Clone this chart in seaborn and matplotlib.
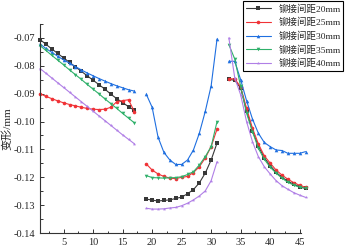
import numpy as np
import pandas as pd
import matplotlib
matplotlib.use('Agg')
import matplotlib.pyplot as plt
import seaborn as sns
from matplotlib.ticker import MultipleLocator, FormatStrFormatter

# x positions of the three measured segments
x_seg1 = list(range(1, 18))
x_seg2 = list(range(19, 32))
x_seg3 = list(range(33, 47))

names = ['铆接间距20mm', '铆接间距25mm', '铆接间距30mm', '铆接间距35mm', '铆接间距40mm']

d20 = [
    [-0.0706, -0.0723, -0.0740, -0.0756, -0.0772, -0.0788, -0.0804, -0.0820, -0.0836,
     -0.0852, -0.0868, -0.0884, -0.0902, -0.0918, -0.0932, -0.0947, -0.0960],
    [-0.1278, -0.1282, -0.1285, -0.1283, -0.1281, -0.1276, -0.1271, -0.1259, -0.1244,
     -0.1220, -0.1185, -0.1138, -0.1077],
    [-0.0849, -0.0852, -0.0880, -0.0962, -0.1034, -0.1088, -0.1130, -0.1158, -0.1182,
     -0.1200, -0.1214, -0.1225, -0.1234, -0.1240],
]
d25 = [
    [-0.0900, -0.0910, -0.0918, -0.0926, -0.0933, -0.0939, -0.0944, -0.0949, -0.0953,
     -0.0956, -0.0957, -0.0956, -0.0949, -0.0929, -0.0925, -0.0922, -0.0965],
    [-0.1152, -0.1174, -0.1188, -0.1197, -0.1203, -0.1205, -0.1200, -0.1197, -0.1183,
     -0.1162, -0.1131, -0.1090, -0.1027],
    [-0.0847, -0.0847, -0.0876, -0.0952, -0.1024, -0.1080, -0.1123, -0.1149, -0.1174,
     -0.1192, -0.1207, -0.1219, -0.1229, -0.1236],
]
d30 = [
    [-0.0722, -0.0738, -0.0752, -0.0766, -0.0779, -0.0791, -0.0803, -0.0815, -0.0826,
     -0.0836, -0.0846, -0.0855, -0.0864, -0.0872, -0.0879, -0.0886, -0.0891],
    [-0.0902, -0.0949, -0.1056, -0.1111, -0.1138, -0.1154, -0.1154, -0.1138, -0.1102,
     -0.1042, -0.0964, -0.0872, -0.0704],
    [-0.0784, -0.0784, -0.0850, -0.0925, -0.0991, -0.1042, -0.1075, -0.1090, -0.1102,
     -0.1104, -0.1114, -0.1114, -0.1114, -0.1108],
]
d35 = [
    [-0.0728, -0.0745, -0.0763, -0.0780, -0.0797, -0.0815, -0.0832, -0.0849, -0.0867,
     -0.0884, -0.0901, -0.0919, -0.0936, -0.0953, -0.0971, -0.0988, -0.1005],
    [-0.1194, -0.1201, -0.1202, -0.1203, -0.1202, -0.1201, -0.1198, -0.1190, -0.1180,
     -0.1156, -0.1126, -0.1090, -0.1000],
    [-0.0724, -0.0776, -0.0874, -0.0970, -0.1036, -0.1096, -0.1135, -0.1164, -0.1185,
     -0.1203, -0.1218, -0.1228, -0.1236, -0.1239],
]
d40 = [
    [-0.0810, -0.0827, -0.0844, -0.0861, -0.0878, -0.0895, -0.0912, -0.0929, -0.0946,
     -0.0963, -0.0980, -0.0997, -0.1014, -0.1031, -0.1048, -0.1064, -0.1080],
    [-0.1311, -0.1314, -0.1314, -0.1313, -0.1310, -0.1308, -0.1302, -0.1293, -0.1281,
     -0.1267, -0.1249, -0.1212, -0.1144],
    [-0.0700, -0.0844, -0.0904, -0.1000, -0.1072, -0.1126, -0.1162, -0.1188, -0.1212,
     -0.1230, -0.1243, -0.1255, -0.1264, -0.1272],
]

colors = ['#383838', '#f03236', '#1f6fe0', '#2fb06a', '#b07fe6']
markers = ['s', 'o', '^', 'v', '*']

# long table, one unit per segment so the gaps stay open
rows = []
for name, series in zip(names, [d20, d25, d30, d35, d40]):
    for seg, (xs, ys) in enumerate(zip([x_seg1, x_seg2, x_seg3], series)):
        for xv, yv in zip(xs, ys):
            rows.append({'x': xv, 'y': yv, 'name': name, 'seg': seg})
df = pd.DataFrame(rows)

sns.set_style('ticks')
plt.rcParams['font.family'] = ['Liberation Serif', 'Noto Sans CJK SC']
plt.rcParams['axes.unicode_minus'] = True

fig = plt.figure(figsize=(3.45, 2.49), dpi=100)
ax = fig.add_axes([0.116, 0.064, 0.756, 0.840])

sns.lineplot(data=df, x='x', y='y', hue='name', style='name', units='seg',
             estimator=None, palette=colors, markers=markers, dashes=False,
             lw=0.8, ms=2.6, markeredgewidth=0, clip_on=False, ax=ax)

ax.set_xlim(1, 45.2)
ax.set_ylim(-0.14, -0.065)
ax.xaxis.set_major_locator(MultipleLocator(5))
ax.xaxis.set_minor_locator(MultipleLocator(2.5))
ax.yaxis.set_major_locator(MultipleLocator(0.01))
ax.yaxis.set_minor_locator(MultipleLocator(0.005))
ax.yaxis.set_major_formatter(FormatStrFormatter('%.2f'))
ax.tick_params(which='both', direction='in', labelsize=7.5, width=0.7, color='#333333')
ax.tick_params(which='major', length=3)
ax.tick_params(which='minor', length=1.8)
for s in ['top', 'right']:
    ax.spines[s].set_visible(False)
for s in ['left', 'bottom']:
    ax.spines[s].set_linewidth(0.8)
    ax.spines[s].set_color('#333333')

ax.set_xlabel('')
ax.set_ylabel('变形/mm', fontsize=8, labelpad=1)

handles, labels = ax.get_legend_handles_labels()
ax.legend(handles, labels, loc='upper right', bbox_to_anchor=(0.995, 0.995),
          bbox_transform=fig.transFigure, fontsize=6.8, frameon=True,
          fancybox=False, edgecolor='black', framealpha=1, borderpad=0.3,
          labelspacing=0.45, handlelength=2.6, handletextpad=0.8, borderaxespad=0)
ax.get_legend().get_frame().set_linewidth(0.8)

fig.savefig('out.png', dpi=100)
